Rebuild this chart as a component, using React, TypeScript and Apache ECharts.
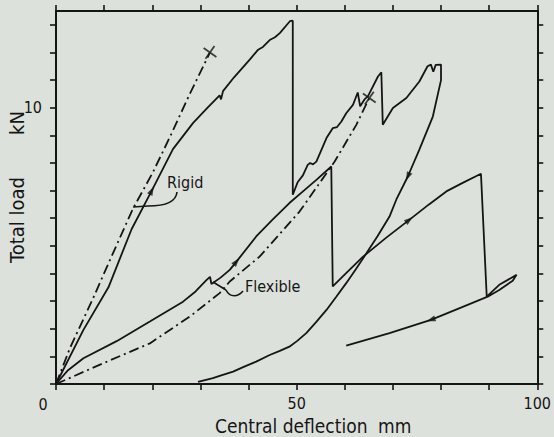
import React, { useEffect, useRef } from "react";
import * as echarts from "echarts";

const xLabels = [50, 100];
const yLabels = [10];
const xTicks = [0, 10, 20, 30, 40, 50, 60, 70, 80, 90, 100];
const yTicks = [0, 1, 2, 3, 4, 5, 6, 7, 8, 9, 10, 11, 12, 13];

const rigidSolid = [
  [0, 0], [5.7, 1.96], [10.9, 3.5], [15.7, 5.6], [19.9, 7.0], [24.3, 8.5], [28.5, 9.45],
  [31.5, 10.0], [34, 10.45], [34.3, 10.3], [34.7, 10.6], [37, 11.1], [40.3, 11.75],
  [42, 12.1], [43, 12.2], [44.4, 12.45], [45.5, 12.55], [46.5, 12.7], [48.6, 13.13],
  [49.2, 13.15], [49.2, 6.85],
  [50.2, 7.3], [51.3, 7.55], [52.3, 7.93], [52.8, 8.0], [53.4, 7.95], [54.1, 8.05],
  [56.2, 8.9], [57.5, 9.26], [58.4, 9.3], [59.3, 9.5], [60.3, 9.8], [61.7, 10.1],
  [62.7, 10.55], [63.2, 10.05], [64.1, 10.3], [64.8, 10.41], [66.9, 11.13], [67.6, 11.28],
  [67.9, 9.38], [70, 9.99], [72.8, 10.35], [75.5, 10.95], [77.2, 11.5], [77.9, 11.56],
  [78.4, 11.3], [78.9, 11.55], [80, 11.56], [80, 11.0], [78.3, 9.68], [75.5, 8.48],
  [73.1, 7.51], [70.7, 6.67], [69.3, 6.06], [66.8, 5.35], [64.5, 4.73], [62.3, 4.15],
  [60.3, 3.65], [58.2, 3.15], [56.2, 2.68], [54, 2.23], [52, 1.84], [50.2, 1.57],
  [48.5, 1.35], [46.5, 1.2], [44.4, 1.05], [41.6, 0.81], [39, 0.62], [36.8, 0.45],
  [34.5, 0.32], [32.6, 0.21], [29.5, 0.08],
];

const flexibleSolid = [
  [0, 0], [2.5, 0.5], [5.7, 0.93], [12.6, 1.55], [19.5, 2.26], [26.4, 2.98], [29, 3.35],
  [31.3, 3.77], [32, 3.88], [32.3, 3.62], [34.2, 3.85], [36.1, 4.13], [37.5, 4.43],
  [41.6, 5.34], [45, 5.95], [48.5, 6.55], [51.5, 7.0], [54.1, 7.39], [56.8, 7.81],
  [57.2, 7.87], [57.5, 3.53], [60.5, 4.05], [63.8, 4.61], [68.5, 5.28], [73.4, 5.94],
  [77.5, 6.5], [81.1, 6.97], [84.5, 7.28], [88.3, 7.61], [89.5, 3.16], [92.1, 3.59],
  [95.7, 3.95], [94.9, 3.74], [92.1, 3.4], [89.7, 3.16], [83.5, 2.72], [77.9, 2.32],
  [69.3, 1.84], [60.3, 1.39],
];

const rigidDashDot = [
  [0, 0], [2.9, 1.3], [7.7, 3.1], [11.5, 4.6], [16, 6.35], [20.1, 7.65], [23.7, 8.95],
  [27.8, 10.5], [32, 12.0],
];

const flexibleDashDot = [
  [0, 0], [9.8, 0.75], [19.5, 1.47], [27.8, 2.44], [34, 3.29], [36.1, 3.71], [42.3, 4.61],
  [50.6, 6.24], [57.9, 8.05], [62.4, 9.38], [65.1, 10.35],
];

const endMarks = [
  [32, 12.0],
  [65.1, 10.35],
];

const arrowPoints = [
  [19.9, 7.0],
  [37.5, 4.43],
  [73.1, 7.51],
  [73.4, 5.94],
  [77.9, 2.32],
];
const arrowAngles = [-27, -39, 155, -52, 109];

const INK = "#151515";
const BG = "#dde1dc";
const FONT = '"DejaVu Sans Condensed", "DejaVu Sans", sans-serif';

export default function App() {
  const ref = useRef<HTMLDivElement>(null);

  useEffect(() => {
    document.body.style.margin = "0";
    document.body.style.background = BG;
    if (!ref.current) return;
    const chart = echarts.init(ref.current, undefined, { renderer: "svg" });

    const axisCommon = {
      type: "value" as const,
      axisLine: { show: true, onZero: false, lineStyle: { color: INK, width: 2 } },
      axisTick: { show: true, inside: false, length: 6, lineStyle: { color: INK, width: 1.6 } },
      splitLine: { show: false },
    };

    const lineBase = {
      type: "line" as const,
      showSymbol: false,
      symbol: "none",
      smooth: false,
      silent: true,
      z: 3,
    };

    const textEl = (text: string, x: number, y: number, size: number, align: string, rot = 0) => ({
      type: "text",
      x,
      y,
      rotation: rot,
      style: {
        text,
        fill: INK,
        font: `${size}px ${FONT}`,
        textAlign: align,
        textVerticalAlign: "middle",
      },
    });

    chart.setOption({
      animation: false,
      backgroundColor: BG,
      grid: { left: 56, right: 16, top: 11, bottom: 53, containLabel: false },
      xAxis: [
        {
          ...axisCommon,
          position: "bottom",
          min: 0,
          max: 100,
          interval: 10,
          axisTick: { ...axisCommon.axisTick, customValues: xTicks },
          axisLabel: {
            customValues: xLabels,
            margin: 11,
            color: INK,
            fontFamily: FONT,
            fontSize: 16,
          },
        },
        {
          ...axisCommon,
          position: "top",
          min: 0,
          max: 100,
          interval: 10,
          axisTick: { ...axisCommon.axisTick, customValues: xTicks },
          axisLabel: { show: false },
        },
      ],
      yAxis: [
        {
          ...axisCommon,
          position: "left",
          min: 0,
          max: 13.5,
          interval: 1,
          axisTick: { ...axisCommon.axisTick, customValues: yTicks },
          axisLabel: {
            customValues: yLabels,
            margin: 14,
            color: INK,
            fontFamily: FONT,
            fontSize: 16,
          },
        },
        {
          ...axisCommon,
          position: "right",
          min: 0,
          max: 13.5,
          interval: 1,
          axisTick: { ...axisCommon.axisTick, customValues: yTicks },
          axisLabel: { show: false },
        },
      ],
      series: [
        { ...lineBase, name: "Rigid", data: rigidSolid, lineStyle: { color: INK, width: 1.8 } },
        { ...lineBase, name: "Flexible", data: flexibleSolid, lineStyle: { color: INK, width: 1.8 } },
        {
          ...lineBase,
          name: "Rigid (dash-dot)",
          data: rigidDashDot,
          lineStyle: { color: INK, width: 1.8, type: [10, 4, 2, 4] },
        },
        {
          ...lineBase,
          name: "Flexible (dash-dot)",
          data: flexibleDashDot,
          lineStyle: { color: INK, width: 1.8, type: [10, 4, 2, 4] },
        },
        {
          type: "scatter",
          name: "Failure",
          data: endMarks,
          symbol: "path://M0,0L10,10M10,0L0,10",
          symbolSize: 11,
          symbolRotate: 10,
          itemStyle: { color: "transparent", borderColor: INK, borderWidth: 1.8 },
          silent: true,
          z: 4,
        },
        {
          type: "scatter",
          name: "Direction",
          data: arrowPoints.map((p, i) => ({ value: p, symbolRotate: arrowAngles[i] })),
          symbol: "triangle",
          symbolSize: [6, 9],
          itemStyle: { color: INK },
          silent: true,
          z: 4,
        },
      ],
      graphic: [
        textEl("Total load", 17, 220, 20, "center", Math.PI / 2),
        textEl("kN", 17, 123, 20, "center", Math.PI / 2),
        textEl("Central deflection", 215, 426, 19, "left"),
        textEl("mm", 378, 426, 19, "left"),
        textEl("0", 43, 404, 16, "center"),
        textEl("Rigid", 167, 182, 16, "left"),
        textEl("Flexible", 245, 286, 16, "left"),
        {
          type: "bezierCurve",
          shape: { x1: 177, y1: 192, x2: 148, y2: 206, cpx1: 176, cpy1: 204, cpx2: 162, cpy2: 206 },
          style: { stroke: INK, lineWidth: 1.6, fill: "none" },
        },
        {
          type: "line",
          shape: { x1: 148, y1: 206, x2: 133, y2: 207 },
          style: { stroke: INK, lineWidth: 1.6 },
        },
        {
          type: "line",
          shape: { x1: 213, y1: 282, x2: 226, y2: 290 },
          style: { stroke: INK, lineWidth: 1.6 },
        },
        {
          type: "bezierCurve",
          shape: { x1: 226, y1: 290, x2: 243, y2: 291, cpx1: 230, cpy1: 298, cpx2: 238, cpy2: 297 },
          style: { stroke: INK, lineWidth: 1.6, fill: "none" },
        },
      ],
    });

    return () => {
      chart.dispose();
    };
  }, []);

  return <div ref={ref} style={{ width: 554, height: 437, background: BG }} />;
}
